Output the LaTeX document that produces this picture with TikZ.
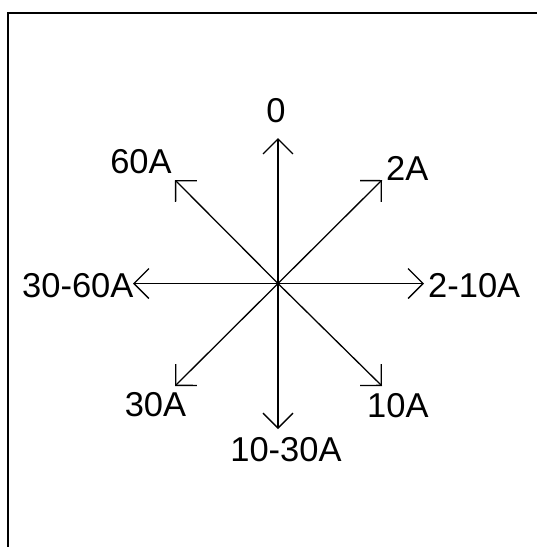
\documentclass[tikz,border=0pt]{standalone}
\usepackage{fontspec}
\setmainfont{Liberation Sans}
\usetikzlibrary{arrows.meta}
\begin{document}
\begin{tikzpicture}[x=1pt,y=-1pt,
  ray/.style={line width=1.3pt,-{Straight Barb[length=15pt,width=30pt,line width=1.3pt]}},
  lbl/.style={inner sep=0pt,font=\fontsize{34.5}{40}\selectfont},
  frameline/.style={line width=2pt}]
\useasboundingbox (0,0) rectangle (537,547);
\draw[frameline] (8,560) -- (8,13) -- (550,13);
\coordinate (c) at (278,283.5);
\coordinate (n) at (278,138);
\coordinate (s) at (278,429);
\coordinate (w) at (133,283.5);
\coordinate (e) at (424,283.5);
\coordinate (nw) at (175,180);
\coordinate (ne) at (382,180);
\coordinate (sw) at (175,386);
\coordinate (se) at (382,386);
\foreach \t in {n,s,w,e,nw,ne,sw,se} \draw[ray] (c) -- (\t);
\node[lbl,anchor=base] (l0) at (276,122) {0};
\node[lbl,anchor=base] (l60) at (141,173) {60A};
\node[lbl,anchor=base west] (l2) at (386,180) {2A};
\node[lbl,anchor=base west] (l3060) at (22,297) {30-60A};
\node[lbl,anchor=base west] (l210) at (428,297) {2-10A};
\node[lbl,anchor=base] (l30) at (155.5,416) {30A};
\node[lbl,anchor=base west] (l10) at (367,417) {10A};
\node[lbl,anchor=base] (l1030) at (286,461) {10-30A};
\end{tikzpicture}
\end{document}
